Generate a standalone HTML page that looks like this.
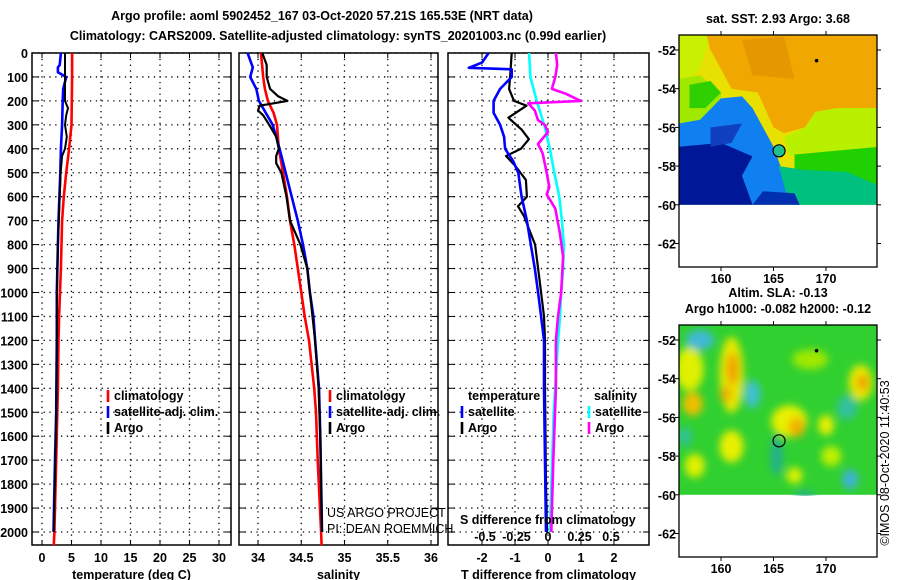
<!DOCTYPE html>
<html><head><meta charset="utf-8">
<style>
body{margin:0;background:#fff;}
svg{display:block;font-family:"Liberation Sans",Arial,sans-serif;}
.t{font-size:12.5px;font-weight:bold;fill:#000;}
.n{font-size:12.5px;fill:#000;}
</style></head><body>
<svg id="chart" width="900" height="580" viewBox="0 0 900 580" xmlns="http://www.w3.org/2000/svg">
<defs>
<filter id="blur" x="-30%" y="-30%" width="160%" height="160%"><feGaussianBlur stdDeviation="4"/></filter>
<clipPath id="m1clip"><rect x="679" y="35" width="198" height="171"/></clipPath>
<clipPath id="m2clip"><rect x="679" y="325" width="198" height="171"/></clipPath>
</defs>
<text class="t" x="322" y="20" text-anchor="middle">Argo profile: aoml 5902452_167 03-Oct-2020 57.21S 165.53E (NRT data)</text>
<text class="t" x="338" y="40" text-anchor="middle">Climatology: CARS2009. Satellite-adjusted climatology: synTS_20201003.nc (0.99d earlier)</text>
<g id="plots"></g>
<g id="maps"></g>
</svg>
<script>
// ---- depth axis ----
const depthTicks=[0,100,200,300,400,500,600,700,800,900,1000,1100,1200,1300,1400,1500,1600,1700,1800,1900,2000];
// ---- temperature panel ----
const tempTicks=[0,5,10,15,20,25,30];
const tempClimDepth=[0,100,200,300,400,500,600,700,800,900,1000,1100,1200,1400,1500,1700,2000,2055];
const tempClim=[5.1,5.1,5.05,5.0,4.6,4.1,3.7,3.4,3.3,3.2,3.05,2.9,2.8,2.7,2.6,2.4,2.1,2.0];
const tempSatDepth=[0,50,60,80,100,150,200,300,400,500,600,700,800,1000,1200,1500,1700,2000];
const tempSat=[3.2,3.0,2.7,2.7,4.1,3.6,3.5,3.4,3.2,3.1,2.95,2.8,2.7,2.5,2.5,2.4,2.2,1.95];
const tempArgoDepth=[0,100,200,230,260,300,350,400,430,500,600,700,800,1000,1200,1500,1700,2000];
const tempArgo=[3.9,3.9,3.9,4.4,4.1,3.9,4.2,3.9,3.4,3.15,3.0,2.85,2.7,2.55,2.5,2.4,2.25,2.0];
// ---- salinity panel ----
const salTicks=[34,34.5,35,35.5,36];
const salClimDepth=[0,100,150,200,250,300,400,500,600,700,800,900,1000,1100,1200,1400,1500,1700,2000,2055];
const salClim=[34.035,34.06,34.08,34.115,34.18,34.22,34.24,34.29,34.335,34.37,34.42,34.46,34.5,34.54,34.59,34.65,34.67,34.69,34.73,34.735];
const salSatDepth=[0,60,100,150,200,250,300,350,400,500,600,700,800,900,1000,1100,1200,1400,1600,2000];
const salSat=[33.88,33.94,33.91,33.98,34.01,34.09,34.17,34.21,34.25,34.32,34.39,34.46,34.52,34.57,34.6,34.64,34.66,34.705,34.72,34.74];
const salArgoDepth=[0,50,100,150,180,200,220,240,260,300,350,400,430,460,500,600,700,800,900,1000,1200,1400,1600,2000];
const salArgo=[34.05,34.1,34.1,34.14,34.23,34.34,34.02,34.0,34.06,34.13,34.21,34.24,34.21,34.21,34.27,34.33,34.37,34.49,34.57,34.6,34.66,34.7,34.72,34.74];
// ---- difference panel ----
const tdiffTicks=[-2,-1,0,1,2];
const sdiffTicks=[-0.5,-0.25,0,0.25,0.5];
const tdSatDepth=[0,40,62,68,100,150,200,250,300,350,400,450,500,600,700,800,900,1000,1100,1200,1400,2000];
const tdSat=[-1.8,-2.0,-2.4,-1.1,-1.1,-1.45,-1.65,-1.65,-1.45,-1.33,-1.3,-1.06,-0.9,-0.8,-0.64,-0.52,-0.4,-0.3,-0.21,-0.12,-0.12,-0.06];
const tdArgoDepth=[0,100,150,200,220,270,320,360,400,430,470,530,600,640,680,800,900,1000,1100,1200,1400,1800,2000];
const tdArgo=[-1.1,-1.15,-1.18,-1.03,-0.65,-1.2,-0.8,-0.58,-0.82,-1.27,-1.0,-0.67,-0.64,-0.91,-0.73,-0.39,-0.3,-0.21,-0.12,-0.09,-0.09,-0.06,-0.03];
const sdSatDepth=[0,100,200,300,400,500,600,700,800,900,1000,1100,1200,1500,2000];
const sdSat=[-0.15,-0.14,-0.09,-0.03,0.015,0.05,0.09,0.11,0.125,0.12,0.105,0.095,0.08,0.045,0.015];
const sdArgoDepth=[0,50,100,150,170,200,210,240,280,300,330,380,420,500,560,590,650,750,850,1000,1100,1200,1400,1700,2000];
const sdArgo=[0.063,0.073,0.058,0.031,0.14,0.26,-0.157,-0.105,-0.079,-0.026,0,-0.079,-0.042,-0.01,0.01,-0.01,0.058,0.094,0.12,0.105,0.079,0.063,0.063,0.042,0.026];
// ---- map axes ----
const lonTicks=[160,165,170];
const latTicks=[-52,-54,-56,-58,-60,-62];

const NS='http://www.w3.org/2000/svg';
const plots=document.getElementById('plots');
const maps=document.getElementById('maps');
function mk(tag,attrs,parent){const e=document.createElementNS(NS,tag);for(const k in attrs)e.setAttribute(k,attrs[k]);(parent||plots).appendChild(e);return e;}
function txt(s,x,y,cls,anchor,parent){const e=mk('text',{x:x,y:y,class:cls,'text-anchor':anchor||'start'},parent);e.textContent=s;return e;}

const Y0=53, YS=0.2395, YB=545;
const yD=d=>Y0+d*YS;
const panels=[
 {x0:32,x1:231,name:'temperature-panel',sx:v=>42+v*5.9,ticks:tempTicks,title:'temperature (deg C)'},
 {x0:239,x1:438,name:'salinity-panel',sx:v=>258+(v-34)*86.5,ticks:salTicks,title:'salinity'},
 {x0:448,x1:649,name:'difference-panel',sx:v=>548+v*33,ticks:tdiffTicks,title:'T difference from climatology'}
];
const sdx=v=>548+v*126;

panels.forEach((p,i)=>{
 const g=mk('g',{});
 
 
 p.ticks.forEach(t=>{const x=p.sx(t);
  const l=mk('line',{x1:x,x2:x,y1:Y0,y2:YB,stroke:'#000','stroke-width':1.3,'stroke-dasharray':'1.3 4.5'},g);
  
  mk('line',{x1:x,x2:x,y1:Y0,y2:Y0+5,stroke:'#000','stroke-width':1},g);
  mk('line',{x1:x,x2:x,y1:YB,y2:YB-5,stroke:'#000','stroke-width':1},g);
  const tl=txt(String(t),x,562,'t','middle',g);
  
 });
 depthTicks.forEach(d=>{const y=yD(d);
  const l=mk('line',{x1:p.x0,x2:p.x1,y1:y,y2:y,stroke:'#000','stroke-width':1.3,'stroke-dasharray':'1.3 4.5'},g);
  
  mk('line',{x1:p.x0,x2:p.x0+6,y1:y,y2:y,stroke:'#000','stroke-width':1},g);
  mk('line',{x1:p.x1,x2:p.x1-6,y1:y,y2:y,stroke:'#000','stroke-width':1},g);
  if(i===0){const tl=txt(String(d),28,y+5,'t','end',g);}
 });
 const fr=mk('rect',{x:p.x0,y:Y0,width:p.x1-p.x0,height:YB-Y0,fill:'none',stroke:'#000','stroke-width':1.5},g);
 
 const at=txt(p.title,(p.x0+p.x1)/2,579,'t','middle',g);
 
});

function series(depths,vals,sx,color,name,w){
 const pts=depths.map((d,k)=>sx(vals[k]).toFixed(1)+','+yD(d).toFixed(1)).join(' ');
 const e=mk('polyline',{points:pts,fill:'none',stroke:color,'stroke-width':w||2.6,'stroke-linejoin':'round'});
 
 
}
series(tempClimDepth,tempClim,panels[0].sx,'#ff0000','temperature-climatology-line');
series(tempSatDepth,tempSat,panels[0].sx,'#0000ff','temperature-satellite-line');
series(tempArgoDepth,tempArgo,panels[0].sx,'#000000','temperature-argo-line',2);
series(salClimDepth,salClim,panels[1].sx,'#ff0000','salinity-climatology-line');
series(salSatDepth,salSat,panels[1].sx,'#0000ff','salinity-satellite-line');
series(salArgoDepth,salArgo,panels[1].sx,'#000000','salinity-argo-line',2.2);
series(sdSatDepth,sdSat,sdx,'#00ffff','sdiff-satellite-line');
series(sdArgoDepth,sdArgo,sdx,'#ff00ff','sdiff-argo-line');
series(tdArgoDepth,tdArgo,panels[2].sx,'#000000','tdiff-argo-line',2.2);
series(tdSatDepth,tdSat,panels[2].sx,'#0000ff','tdiff-satellite-line');

sdiffTicks.forEach(v=>{const tl=txt(String(v),sdx(v),541,'t','middle');
 });
const sdt=txt('S difference from climatology',460,524,'t','start');


function leg(x,y,color,label,name){
 const g=mk('g',{});
 
 
 mk('line',{x1:x,x2:x,y1:y-10,y2:y+2,stroke:color,'stroke-width':2.6},g);
 txt(label,x+6,y,'t','start',g);
}
leg(108,400,'#ff0000','climatology','legend-climatology');
leg(108,416,'#0000ff','satellite-adj. clim.','legend-satellite');
leg(108,432,'#000000','Argo','legend-argo');
leg(330,400,'#ff0000','climatology','legend-sal-climatology');
leg(330,416,'#0000ff','satellite-adj. clim.','legend-sal-satellite');
leg(330,432,'#000000','Argo','legend-sal-argo');
const lt=txt('temperature',468,400,'t','start');
const ls=txt('salinity',594,400,'t','start');
leg(462,416,'#0000ff','satellite','legend-tdiff-satellite');
leg(462,432,'#000000','Argo','legend-tdiff-argo');
leg(589,416,'#00ffff','satellite','legend-sdiff-satellite');
leg(589,432,'#ff00ff','Argo','legend-sdiff-argo');
const c1=txt('US ARGO PROJECT',327,517,'n','start');
const c2=txt('PI: DEAN ROEMMICH',327,533,'n','start');

// ---- maps ----
const MX0=679,MX1=877;
const lonX=l=>721+(l-160)*10.5;
function mapFrame(top,name){
 const latY=la=>top+15+(-52-la)*19.35;
 const g=mk('g',{},maps);
 
 
 return {g,latY};
}
(function(){
 const top=35,{g,latY}=mapFrame(35,'sst-map');
 const P=pts=>pts.map(p=>lonX(p[0]).toFixed(1)+','+latY(p[1]).toFixed(1)).join(' ');
 const cg=mk('g',{'clip-path':'url(#m1clip)'},g);
 mk('rect',{x:MX0,y:top,width:198,height:latY(-60)-top,fill:'#e8e000'},cg);
 mk('polygon',{points:P([[156,-51.2],[159,-51.2],[158,-53],[156,-54]]),fill:'#c8f000'},cg);
 mk('polygon',{points:P([[158.5,-51],[175,-51],[175,-55],[171,-55],[169,-55.2],[168,-56],[166,-56.3],[165,-56],[163.5,-54.2],[161,-54],[160,-53],[159,-52]]),fill:'#f0a800'},cg);
 mk('polygon',{points:P([[162,-51.5],[166,-51.3],[167,-53.5],[163,-53.3]]),fill:'#e09000',opacity:0.7},cg);
 mk('polygon',{points:P([[156,-53.5],[158,-53.3],[160,-54.2],[160,-56],[156,-56]]),fill:'#a0e800'},cg);
 mk('polygon',{points:P([[157,-53.8],[159,-53.6],[160,-54.2],[158.5,-55],[157,-55]]),fill:'#30d000'},cg);
 mk('polygon',{points:P([[166,-56.5],[168,-56],[169,-55.2],[171,-55],[175,-55],[175,-57.2],[168,-57.3],[166.5,-57.5]]),fill:'#b8f000'},cg);
 mk('polygon',{points:P([[167,-57.4],[175,-57],[175,-60],[167,-60]]),fill:'#20d000'},cg);
 mk('polygon',{points:P([[156,-55.8],[158,-55.6],[160,-54.5],[162,-54.4],[163,-55],[164,-56],[165,-57],[166,-58.5],[167.5,-60],[156,-60]]),fill:'#1080f0'},cg);
 mk('polygon',{points:P([[156,-57],[160,-56.8],[163,-57.5],[162,-58.5],[163,-60],[156,-60]]),fill:'#001898'},cg);
 mk('polygon',{points:P([[159,-56],[162,-55.8],[161,-56.8],[159,-57]]),fill:'#1040c0'},cg);
 mk('polygon',{points:P([[165.5,-58],[168,-58.2],[172,-58.3],[175,-59],[175,-60],[166.5,-60]]),fill:'#00c080'},cg);
 mk('polygon',{points:P([[164,-59.3],[167,-59.4],[167.5,-60],[163,-60]]),fill:'#0030b0'},cg);
 mk('circle',{cx:lonX(165.53),cy:latY(-57.21),r:6,fill:'#20c090',stroke:'#000','stroke-width':1.2},g);
 mk('circle',{cx:lonX(169.1),cy:latY(-52.55),r:1.8,fill:'#000'},g);
 axes(g,top,latY,'sat. SST: 2.93 Argo: 3.68',null,283);
})();
(function(){
 const top=325,{g,latY}=mapFrame(325,'sla-map');
 const cg=mk('g',{'clip-path':'url(#m2clip)'},g);
 mk('rect',{x:MX0,y:top,width:198,height:latY(-60)-top,fill:'#30d030'},cg);
 const bg=mk('g',{filter:'url(#blur)'},cg);
 const E=(lo,la,rx,ry,c)=>mk('ellipse',{cx:lonX(lo),cy:latY(la),rx:rx,ry:ry,fill:c},bg);
 E(157,-53.5,14,22,'#e0f000');E(157.3,-55.3,10,12,'#f0c000');
 E(161,-53.8,12,38,'#e8e800');E(161.1,-53.5,6,16,'#f0a000');E(160.5,-54.8,6,8,'#f0b000');
 E(158,-52,14,10,'#40b8d8');E(163,-54.8,8,14,'#40c0d0');
 E(166.5,-56.2,18,16,'#e8f000');E(167.2,-56.5,8,10,'#f0b000');
 E(170,-56.4,8,10,'#e8f000');E(168.5,-53,18,10,'#a0e800');
 E(173.3,-54.2,12,18,'#e8e800');E(173.5,-54.2,6,8,'#f0a000');
 E(161,-57.5,12,16,'#e8f000');E(157.5,-58.5,10,12,'#e0f000');
 E(172,-55.5,10,12,'#30c0a0');E(172.3,-59.2,8,10,'#40b0d8');
 E(165.3,-58,6,20,'#20b090');E(167,-59,8,8,'#e0f000');E(170.5,-58,10,10,'#c0f000');
 E(156.6,-57,6,10,'#30c0a0');E(168,-60,10,4,'#20b090');
 mk('circle',{cx:lonX(165.53),cy:latY(-57.21),r:6,fill:'none',stroke:'#000','stroke-width':1.2},g);
 mk('circle',{cx:lonX(169.1),cy:latY(-52.55),r:1.8,fill:'#000'},g);
 axes(g,top,latY,'Argo h1000: -0.082 h2000: -0.12','Altim. SLA: -0.13',573);
})();
function axes(g,top,latY,title,title0,lonLabY){
 const bot=top+232;
 const fr=mk('rect',{x:MX0,y:top,width:MX1-MX0,height:232,fill:'none',stroke:'#000','stroke-width':1.3},g);
 
 lonTicks.forEach(l=>{const x=lonX(l);
  mk('line',{x1:x,x2:x,y1:top,y2:top-4,stroke:'#000'},g);
  mk('line',{x1:x,x2:x,y1:bot,y2:bot+4,stroke:'#000'},g);
  const t=txt(String(l),x,lonLabY,'t','middle',g);
  });
 latTicks.forEach(la=>{const y=latY(la);
  mk('line',{x1:MX0,x2:MX0-4,y1:y,y2:y,stroke:'#000'},g);
  mk('line',{x1:MX1,x2:MX1+4,y1:y,y2:y,stroke:'#000'},g);
  const t=txt(String(la),676,y+5,'t','end',g);
  });
 const tt=txt(title,778,top-12,'t','middle',g);
 
 if(title0){const t0=txt(title0,778,top-28,'t','middle',g);}
}
const cr=txt('©IMOS 08-Oct-2020 11:40:53',0,0,'n','middle',maps);
cr.setAttribute('transform','translate(889,463) rotate(-90)');


</script>
</body></html>
